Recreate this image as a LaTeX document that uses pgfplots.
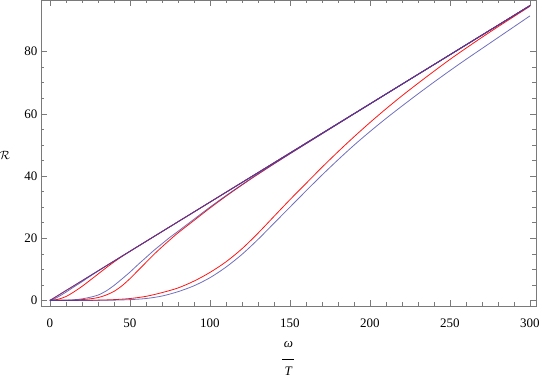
\documentclass[border=0pt]{standalone}
\usepackage{fontspec}
\setmainfont{Liberation Serif}
\usepackage{pgfplots}
\pgfplotsset{compat=1.18}
\definecolor{mred}{HTML}{FF1414}
\definecolor{mblue}{HTML}{4040A8}
\definecolor{framegray}{HTML}{7A7A7A}

\begin{document}
\begin{tikzpicture}
\path[use as bounding box] (-41pt,-71pt) rectangle (501pt,306pt);
\begin{axis}[
  at={(0pt,0pt)}, anchor=south west,
  scale only axis, width=495pt, height=306pt,
  xmin=-5.6, xmax=303.75, ymin=-1.8, ymax=96.6,
  xtick={0,50,...,300}, ytick={0,20,...,80},
  minor x tick num=4, minor y tick num=3,
  tick pos=both, tick align=inside,
  major tick length=6pt, minor tick length=3.5pt,
  axis line style={framegray, line width=0.6pt},
  tick style={framegray, line width=0.5pt},
  every tick label/.append style={font=\fontsize{13}{15}\selectfont},
  /pgf/number format/assume math mode=true,
  xticklabel style={yshift=-9pt},
  every axis y label/.style={at={(axis description cs:0,0.493)}, anchor=center, xshift=-36pt},
  every axis x label/.style={at={(axis description cs:0.5,0)}, anchor=north, yshift=-32pt, align=center, font=\fontsize{13}{15}\selectfont},
  xlabel={\textit{ω}\\[0pt]\rule[3pt]{12pt}{0.8pt}\\[-2pt]\textit{T}},
  ylabel={\fontsize{13}{15}\selectfont$\mathcal{R}$},
  every axis plot/.append style={line width=0.8pt, smooth, no marks},
]
% red series
\addplot[mred] coordinates {(0,0) (300,94.8)};
\addplot[mred] coordinates {(0,0) (5,0.35) (10,1.25) (15,2.75) (20,4.5) (25,6.45) (30,8.45) (35,10.45) (40,12.35) (45,14.12) (50,15.78) (60,18.95) (80,25.28) (100,31.6) (150,47.4) (200,63.2) (300,94.8)};
\addplot[mred] coordinates {(0,0) (10,0.02) (15,0.08) (20,0.25) (25,0.5) (30,0.9) (35,1.7) (40,2.9) (45,4.7) (50,7.0) (55,9.6) (60,12.2) (65,14.8) (70,17.2) (75,19.5) (80,21.7) (90,25.7) (100,29.7) (110,33.5) (120,37.1) (130,40.55) (150,47.15) (200,63.15) (250,79.0) (300,94.8)};
\addplot[mred] coordinates {(0,0) (20,0.02) (30,0.08) (40,0.25) (50,0.6) (60,1.3) (70,2.5) (80,4.0) (90,6.2) (100,9.0) (110,12.4) (120,16.6) (130,21.6) (140,27.0) (150,32.4) (160,37.6) (170,42.8) (180,47.8) (190,52.6) (200,57.2) (210,61.6) (220,65.8) (230,69.8) (240,73.7) (250,77.5) (260,81.1) (270,84.6) (280,88.0) (290,91.3) (300,94.6)};
% blue series
\addplot[mblue, opacity=0.75] coordinates {(0,0) (300,94.8)};
\addplot[mblue, opacity=0.75] coordinates {(0,0) (2,0.35) (5,1.1) (10,2.65) (15,4.35) (20,6.0) (25,7.75) (30,9.42) (35,11.05) (40,12.64) (60,18.96) (100,31.6) (150,47.4) (200,63.2) (300,94.8)};
\addplot[mblue, opacity=0.75] coordinates {(0,0) (10,0.05) (15,0.2) (20,0.5) (25,1.0) (30,1.7) (35,3.0) (40,4.8) (45,6.9) (50,9.1) (55,11.5) (60,13.8) (65,16.1) (70,18.2) (75,20.3) (80,22.2) (90,26.1) (100,30.0) (110,33.7) (120,37.25) (130,40.7) (150,47.2) (200,63.15) (250,79.0) (300,94.8)};
\addplot[mblue, opacity=0.75] coordinates {(0,0) (30,0.02) (40,0.08) (50,0.25) (60,0.6) (70,1.4) (80,2.8) (90,4.7) (100,7.3) (110,10.7) (120,14.8) (130,19.6) (140,24.8) (150,30.0) (160,35.2) (170,40.3) (180,45.2) (190,49.9) (200,54.3) (210,58.5) (220,62.5) (230,66.4) (240,70.2) (250,73.9) (260,77.5) (270,81.0) (280,84.5) (290,88.0) (300,91.5)};
\end{axis}
\end{tikzpicture}
\end{document}
